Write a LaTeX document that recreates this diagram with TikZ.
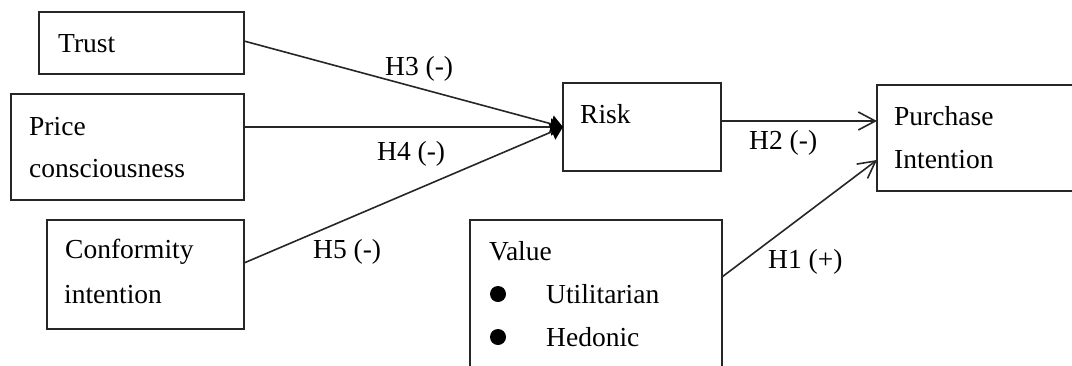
\documentclass[tikz,border=0pt]{standalone}
\usepackage{fontspec}
\setmainfont{Liberation Serif}
\usetikzlibrary{arrows.meta}
\begin{document}
\begin{tikzpicture}[x=1pt,y=-1pt,
  box/.style={draw=black!85, line width=1.6pt, rectangle, inner sep=0pt, outer sep=0pt},
  txt/.style={anchor=base west, inner sep=0pt, font=\fontsize{27.5}{32}\selectfont},
  link/.style={draw=black!85, line width=1.6pt},
  solidtip/.style={-{Triangle[length=12pt,width=17pt,color=black]}},
  opentip/.style={-{Straight Barb[length=17pt,width=18pt,line width=1.6pt]}},
  dot/.style={circle, fill=black, inner sep=0pt, minimum size=16pt}]
\useasboundingbox (0,0) rectangle (1072,365);
\clip (0,0) rectangle (1072,365);

% boxes
\node[box, minimum width=205pt, minimum height=62pt] (trust) at (141.5,43) {};
\node[box, minimum width=233pt, minimum height=106pt] (price) at (127.5,147) {};
\node[box, minimum width=197pt, minimum height=109pt] (conf) at (145.5,274.5) {};
\node[box, minimum width=158pt, minimum height=88pt] (risk) at (642,127) {};
\node[box, minimum width=223pt, minimum height=106pt] (purchase) at (988.5,138) {};
\node[box, minimum width=252pt, minimum height=180pt] (value) at (596,310) {};

% box texts
\node[txt] (tTrust) at (58,52) {Trust};
\node[txt] (tPrice) at (29,135) {Price};
\node[txt] (tCons) at (29,177) {consciousness};
\node[txt] (tConf) at (65,258) {Conformity};
\node[txt] (tIntent) at (64,303) {intention};
\node[txt] (tRisk) at (580,123) {Risk};
\node[txt] (tPurch) at (894,125) {Purchase};
\node[txt] (tIntention) at (894,168) {Intention};
\node[txt] (tValue) at (489,260) {Value};
\node[dot] (b1) at (498,294) {};
\node[txt] (tUtil) at (546,303) {Utilitarian};
\node[dot] (b2) at (498,337) {};
\node[txt] (tHed) at (546,346) {Hedonic};

% paths into Risk
\draw[link, solidtip] ([yshift=2pt]trust.east) -- (risk.west);
\draw[link, solidtip] (price.east |- risk.west) -- (risk.west);
\draw[link, solidtip] ([yshift=11.5pt]conf.east) -- (risk.west);

% paths into Purchase Intention
\draw[link, opentip] ([yshift=6pt]risk.east) -- ([yshift=6pt]risk.east -| purchase.west);
\draw[link, opentip] ([yshift=33pt]value.east) -- ([yshift=-22pt]purchase.west);

% hypothesis labels
\node[txt] (h3) at (385,75) {H3 (-)};
\node[txt] (h4) at (377,160) {H4 (-)};
\node[txt] (h5) at (313,258) {H5 (-)};
\node[txt] (h2) at (749,149) {H2 (-)};
\node[txt] (h1) at (768,268) {H1 (+)};
\end{tikzpicture}
\end{document}
